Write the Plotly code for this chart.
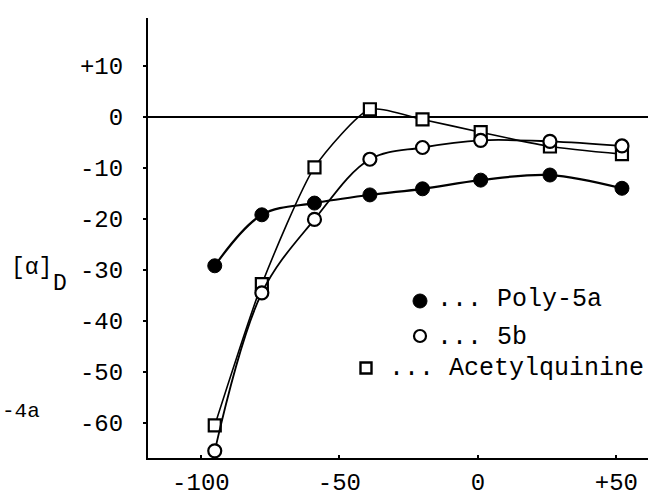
import plotly.graph_objects as go

# ---- data ----
temps = [-95, -78, -59, -39, -20, 1, 26, 52]
poly5a = [-29.2, -19.2, -16.9, -15.3, -14.1, -12.4, -11.4, -14.0]
poly5b = [-65.5, -34.5, -20.1, -8.3, -6.0, -4.6, -4.8, -5.7]
acetylquinine = [-60.5, -32.8, -9.9, 1.5, -0.5, -3.0, -5.8, -7.3]

y_ticks = [10, 0, -10, -20, -30, -40, -50, -60]
y_tick_text = ["+10", "0", "-10", "-20", "-30", "-40", "-50", "-60"]
x_ticks = [-100, -50, 0, 50]
x_tick_text = ["-100", "-50", "0", "+50"]

FONT = "Liberation Mono, Courier New, monospace"
W, H = 648, 497
ML, MR, MT, MB = 148, 0, 18, 39


def px(xp):
    return (xp - ML) / (W - ML - MR)


def py(yp):
    return (H - MB - yp) / (H - MT - MB)


fig = go.Figure()
fig.add_trace(go.Scatter(
    x=temps, y=poly5a, mode="lines+markers", name="Poly-5a",
    line=dict(color="black", width=2.2, shape="spline", smoothing=1.0),
    marker=dict(symbol="circle", size=14, color="black", line=dict(color="black", width=1)),
))
fig.add_trace(go.Scatter(
    x=temps, y=acetylquinine, mode="lines+markers", name="Acetylquinine",
    line=dict(color="black", width=1.6, shape="spline", smoothing=0.6),
    marker=dict(symbol="square", size=12, color="white", line=dict(color="black", width=2.2)),
))
fig.add_trace(go.Scatter(
    x=temps, y=poly5b, mode="lines+markers", name="5b",
    line=dict(color="black", width=1.8, shape="spline", smoothing=1.0),
    marker=dict(symbol="circle", size=13, color="white", line=dict(color="black", width=2.2)),
))

annotations = []
# legend texts
leg = [("... Poly-5a", 435, 299), ("... 5b", 435, 337), ("... Acetylquinine", 387, 368)]
for t, xp, yp in leg:
    annotations.append(dict(text=t, x=px(xp), y=py(yp), xref="paper", yref="paper",
                            xanchor="left", yanchor="middle", showarrow=False,
                            font=dict(family=FONT, size=25, color="black")))
# axis label
annotations.append(dict(text="[α]", x=px(9), y=py(268), xref="paper", yref="paper",
                        xanchor="left", yanchor="middle", showarrow=False,
                        font=dict(family=FONT, size=23, color="black")))
annotations.append(dict(text="D", x=px(51), y=py(284), xref="paper", yref="paper",
                        xanchor="left", yanchor="middle", showarrow=False,
                        font=dict(family=FONT, size=23, color="black")))
annotations.append(dict(text="-4a", x=px(0), y=py(411), xref="paper", yref="paper",
                        xanchor="left", yanchor="middle", showarrow=False,
                        font=dict(family=FONT, size=21, color="black")))

shapes = [
    dict(type="circle", xref="paper", yref="paper", xsizemode="pixel", ysizemode="pixel",
         xanchor=px(420), yanchor=py(301), x0=-7, x1=7, y0=-7, y1=7,
         fillcolor="black", line=dict(color="black", width=1)),
    dict(type="circle", xref="paper", yref="paper", xsizemode="pixel", ysizemode="pixel",
         xanchor=px(420), yanchor=py(336), x0=-6, x1=6, y0=-6, y1=6,
         fillcolor="white", line=dict(color="black", width=2.2)),
    dict(type="rect", xref="paper", yref="paper", xsizemode="pixel", ysizemode="pixel",
         xanchor=px(366), yanchor=py(368), x0=-5.5, x1=5.5, y0=-5.5, y1=5.5,
         fillcolor="white", line=dict(color="black", width=2.4)),
]

fig.update_layout(
    width=W, height=H,
    margin=dict(l=ML, r=MR, t=MT, b=MB, pad=0),
    paper_bgcolor="white", plot_bgcolor="white",
    showlegend=False,
    annotations=annotations,
    shapes=shapes,
    font=dict(family=FONT, size=22, color="black"),
)
fig.update_xaxes(
    range=[-119.1, 61.4], showgrid=False, zeroline=False,
    showline=True, linecolor="black", linewidth=2,
    tickmode="array", tickvals=x_ticks, ticktext=x_tick_text,
    ticks="inside", ticklen=3, tickwidth=2, tickcolor="black",
    ticklabelstandoff=1, automargin=False,
    tickfont=dict(family=FONT, size=24, color="black"),
)
fig.update_yaxes(
    range=[-66.9, 19.4], showgrid=False,
    zeroline=True, zerolinecolor="black", zerolinewidth=1.5,
    showline=True, linecolor="black", linewidth=2,
    tickmode="array", tickvals=y_ticks, ticktext=y_tick_text,
    ticks="outside", ticklen=3, tickwidth=2, tickcolor="black",
    ticklabelstandoff=15, automargin=False,
    tickfont=dict(family=FONT, size=24, color="black"),
)

fig.write_html(
    "out.html",
    config={"displayModeBar": False},
    post_script="document.body.style.margin='0px';document.body.style.overflow='hidden';",
)
